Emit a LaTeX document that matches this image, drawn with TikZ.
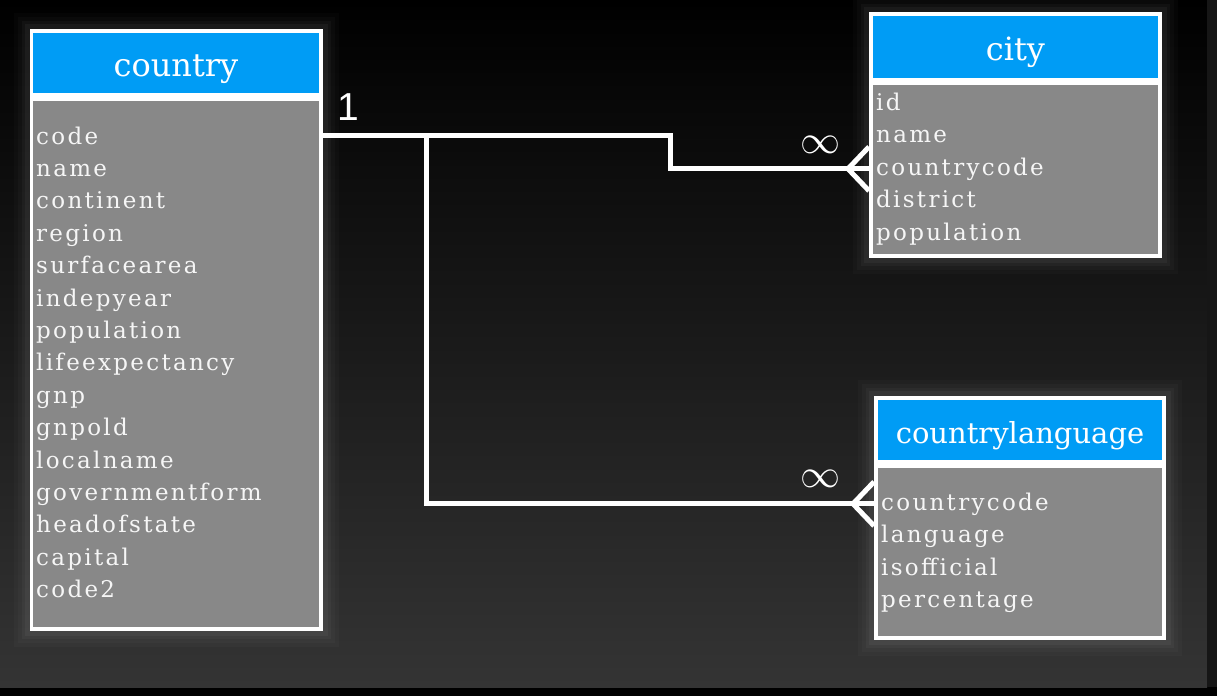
\documentclass[tikz,border=0pt]{standalone}
\usepackage{fontspec}
\setmainfont{DejaVu Serif}
\newfontfamily\rowfont[LetterSpace=10]{DejaVu Serif}
\newfontfamily\onefont{Liberation Sans}
\usetikzlibrary{calc,positioning}

\definecolor{hdrblue}{RGB}{0,156,245}
\definecolor{bodygray}{RGB}{136,136,136}
\definecolor{bgbottom}{RGB}{52,52,52}
\definecolor{sidestrip}{RGB}{22,22,22}
\definecolor{rowwhite}{RGB}{246,246,246}

\tikzset{
    frame/.style={
        rectangle,
        fill=white,
        anchor=north west,
        inner sep=0pt,
        outer sep=0pt,
        preaction={draw=white,line width=32pt,opacity=0.02},
        preaction={draw=white,line width=24pt,opacity=0.025},
        preaction={draw=white,line width=16pt,opacity=0.03},
        preaction={draw=white,line width=10pt,opacity=0.04},
    },
    header/.style={
        rectangle,
        fill=hdrblue,
        anchor=north west,
        inner sep=0pt,
        outer sep=0pt,
        text=white,
        font=\fontsize{32}{38}\selectfont,
        text height=26pt,
        text depth=0pt,
    },
    body/.style={
        rectangle,
        fill=bodygray,
        anchor=north west,
        inner sep=0pt,
        outer sep=0pt,
    },
    rowtext/.style={
        anchor=base west,
        inner sep=0pt,
        text=rowwhite,
        font=\rowfont\fontsize{23}{27}\selectfont,
    },
    link/.style={
        draw=white,
        line width=5pt,
    },
    card/.style={
        text=white,
        inner sep=0pt,
    },
}

\begin{document}
\begin{tikzpicture}[x=1pt,y=-1pt]
    \fill[black] (0,0) rectangle (1217,696);
    \shade[top color=black,bottom color=bgbottom] (0,0) rectangle (1207,687);
    \fill[sidestrip] (1207,0) rectangle (1217,687);
    \useasboundingbox (0,0) rectangle (1217,696);

    % country
    \node[frame,minimum width=293,minimum height=602](country) at (30,29) {};
    \node[header,minimum width=286,minimum height=60](country-h) at (33,33) {country};
    \node[body,minimum width=286,minimum height=526](country-b) at (33,101) {};
    \foreach \f [count=\i] in {code,name,continent,region,surfacearea,indepyear,population,%
        lifeexpectancy,gnp,gnpold,localname,governmentform,headofstate,capital,code2}
        \node[rowtext](co-\i) at (36,{144+32.4*(\i-1)}) {\f};

    % city
    \node[frame,minimum width=293,minimum height=246](city) at (869,12) {};
    \node[header,minimum width=285,minimum height=62](city-h) at (873,16) {city};
    \node[body,minimum width=285,minimum height=169](city-b) at (873,85) {};
    \foreach \f [count=\i] in {id,name,countrycode,district,population}
        \node[rowtext](ci-\i) at (876,{110+32.5*(\i-1)}) {\f};

    % countrylanguage
    \node[frame,minimum width=292,minimum height=244](lang) at (874,396) {};
    \node[header,minimum width=284,minimum height=60,font=\fontsize{29}{34}\selectfont](lang-h) at (878,400) {countrylanguage};
    \node[body,minimum width=284,minimum height=168](lang-b) at (878,468) {};
    \foreach \f [count=\i] in {countrycode,language,isofficial,percentage}
        \node[rowtext](cl-\i) at (881,{510+32.6*(\i-1)}) {\f};

    % relations
    \coordinate (k1) at (670,0);
    \coordinate (k2) at (426,0);
    \draw[link] (country.east |- co-1) -- (k1 |- co-1) -- (k1 |- ci-3) -- (city.west |- ci-3);
    \draw[link] ($(city.west |- ci-3)+(0,-22)$) -- ++(-21,22) -- ++(21,22);
    \draw[link] (k2 |- co-1) -- (k2 |- cl-1) -- (lang.west |- cl-1);
    \draw[link] ($(lang.west |- cl-1)+(0,-22)$) -- ++(-21,22) -- ++(21,22);

    \node[card,font=\onefont\fontsize{39}{45}\selectfont](one) at (348,107) {1};
    \node[card](many1) at (820,145) {\scalebox{4}{$\infty$}};
    \node[card](many2) at (820,479) {\scalebox{4}{$\infty$}};
\end{tikzpicture}
\end{document}
